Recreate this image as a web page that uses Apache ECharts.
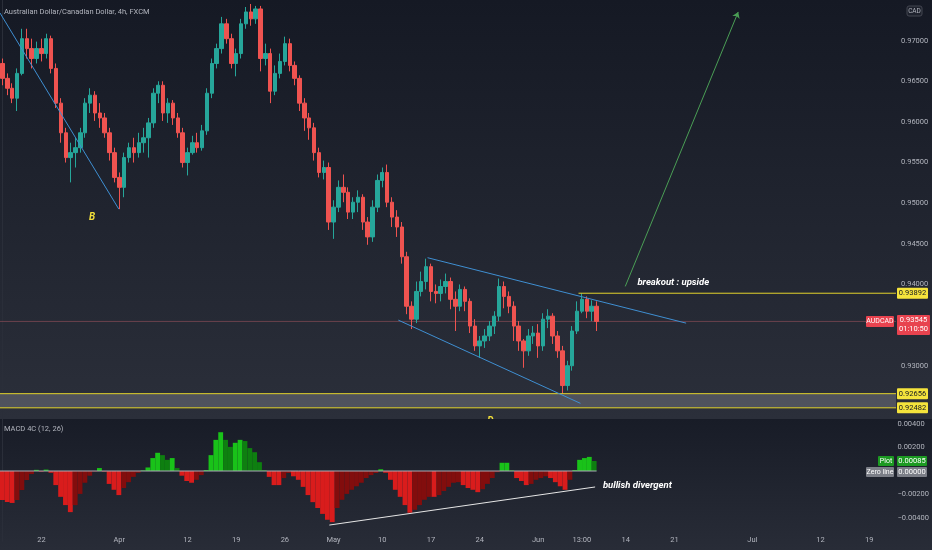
<!DOCTYPE html>
<html><head><meta charset="utf-8">
<script src="https://cdn.jsdelivr.net/npm/echarts@6/dist/echarts.min.js"></script>
<style>html,body{margin:0;padding:0;background:#1e222d}#c{width:932px;height:550px}</style>
</head><body><div id="c"></div>
<script>
// ---------- DATA ----------
// 12h candles, [open, close, low, high], from Mar 16 2021 (weekdays only)
const ohlc = [
[0.96719,0.96536,0.96451,0.96780],[0.96536,0.96414,0.96329,0.96597],[0.96414,0.96292,0.96231,0.96475],[0.96292,0.96597,0.96134,0.96658],
[0.96597,0.97024,0.96573,0.97146],[0.97024,0.96902,0.96780,0.97146],[0.96902,0.96780,0.96658,0.97024],[0.96780,0.96902,0.96719,0.96988],
[0.96902,0.96841,0.96744,0.97024],[0.96841,0.97024,0.96780,0.97085],[0.97024,0.96658,0.96597,0.97061],[0.96658,0.96231,0.96171,0.96719],
[0.96231,0.95866,0.95744,0.96292],[0.95866,0.95561,0.95500,0.95927],[0.95561,0.95622,0.95256,0.95744],[0.95622,0.95683,0.95439,0.95805],
[0.95683,0.95866,0.95622,0.95927],[0.95866,0.96231,0.95805,0.96292],[0.96231,0.96329,0.96110,0.96414],[0.96329,0.96110,0.96012,0.96378],
[0.96110,0.96049,0.95927,0.96231],[0.96049,0.95866,0.95805,0.96110],[0.95866,0.95622,0.95524,0.95927],[0.95622,0.95317,0.95256,0.95683],
[0.95317,0.95195,0.94927,0.95378],[0.95195,0.95561,0.95073,0.95622],[0.95561,0.95683,0.95500,0.95744],[0.95683,0.95622,0.95500,0.95805],
[0.95622,0.95744,0.95561,0.95866],[0.95744,0.95805,0.95622,0.95927],[0.95805,0.95988,0.95561,0.96049],[0.95988,0.96353,0.95927,0.96414],
[0.96353,0.96451,0.96231,0.96500],[0.96451,0.96110,0.96012,0.96500],[0.96110,0.96231,0.95988,0.96292],[0.96231,0.96049,0.95963,0.96268],
[0.96049,0.95866,0.95805,0.96110],[0.95866,0.95500,0.95439,0.95927],[0.95500,0.95622,0.95341,0.95683],[0.95622,0.95744,0.95597,0.95829],
[0.95744,0.95683,0.95622,0.95866],[0.95683,0.95890,0.95646,0.95963],[0.95890,0.96353,0.95841,0.96414],[0.96353,0.96719,0.96292,0.96780],
[0.96719,0.96902,0.96658,0.96963],[0.96902,0.97207,0.96841,0.97292],[0.97207,0.97024,0.96963,0.97268],[0.97024,0.96719,0.96658,0.97085],
[0.96719,0.96841,0.96561,0.96902],[0.96841,0.97207,0.96780,0.97268],[0.97207,0.97353,0.97146,0.97414],[0.97353,0.97268,0.97183,0.97451],
[0.97268,0.97390,0.97207,0.97427],[0.97390,0.96780,0.96622,0.97427],[0.96780,0.96841,0.96695,0.96963],[0.96841,0.96378,0.96231,0.96902],
[0.96378,0.96597,0.96329,0.96695],[0.96597,0.96744,0.96536,0.96841],[0.96744,0.96963,0.96695,0.97049],[0.96963,0.96695,0.96622,0.97024],
[0.96695,0.96536,0.96451,0.96744],[0.96536,0.96231,0.96134,0.96573],[0.96231,0.96049,0.95890,0.96292],[0.96049,0.95927,0.95780,0.96110],
[0.95927,0.95622,0.95524,0.95988],[0.95622,0.95378,0.95317,0.95683],[0.95378,0.95439,0.95292,0.95524],[0.95439,0.94768,0.94671,0.95500],
[0.94768,0.94951,0.94561,0.95036],[0.94951,0.95195,0.94890,0.95280],[0.95195,0.95134,0.95012,0.95353],[0.95134,0.94890,0.94805,0.95195],
[0.94890,0.95012,0.94805,0.95073],[0.95012,0.95073,0.94890,0.95158],[0.95073,0.94768,0.94671,0.95110],[0.94768,0.94585,0.94488,0.94829],
[0.94585,0.94951,0.94524,0.95036],[0.94951,0.95280,0.94890,0.95353],[0.95280,0.95378,0.95195,0.95439],[0.95378,0.95012,0.94951,0.95475],
[0.95012,0.94829,0.94707,0.95073],[0.94829,0.94707,0.94585,0.94914],[0.94707,0.94341,0.94256,0.94768],[0.94341,0.93732,0.93634,0.94402],
[0.93732,0.93573,0.93451,0.93792],[0.93573,0.93914,0.93524,0.94036],[0.93914,0.94036,0.93853,0.94158],[0.94036,0.94219,0.93939,0.94317],
[0.94219,0.93914,0.93792,0.94256],[0.93914,0.93890,0.93768,0.94000],[0.93890,0.93975,0.93792,0.94061],[0.93975,0.94036,0.93890,0.94134],
[0.94036,0.93817,0.93695,0.94085],[0.93817,0.93732,0.93427,0.93914],[0.93732,0.93939,0.93671,0.94000],[0.93939,0.93792,0.93671,0.93975],
[0.93792,0.93488,0.93402,0.93829],[0.93488,0.93244,0.93183,0.93573],[0.93244,0.93305,0.93097,0.93366],[0.93305,0.93366,0.93219,0.93451],
[0.93366,0.93488,0.93305,0.93549],[0.93488,0.93610,0.93390,0.93671],[0.93610,0.93975,0.93549,0.94073],[0.93975,0.93853,0.93707,0.94036],
[0.93853,0.93732,0.93646,0.93914],[0.93732,0.93488,0.93305,0.93792],[0.93488,0.93305,0.93183,0.93549],[0.93305,0.93183,0.92975,0.93329],
[0.93183,0.93366,0.93122,0.93451],[0.93366,0.93402,0.93268,0.93488],[0.93402,0.93244,0.93097,0.93512],[0.93244,0.93573,0.93183,0.93646],
[0.93573,0.93610,0.93463,0.93695],[0.93610,0.93366,0.93268,0.93646],[0.93366,0.93183,0.93097,0.93427],[0.93183,0.92756,0.92658,0.93244],
[0.92756,0.93000,0.92695,0.93061],[0.93000,0.93427,0.92939,0.93488],[0.93427,0.93671,0.93390,0.93792],[0.93671,0.93817,0.93646,0.93890],
[0.93817,0.93671,0.93585,0.93853],[0.93671,0.93732,0.93549,0.93805],[0.93732,0.93545,0.93427,0.93792]
];
// MACD 4C histogram (one value per candle)
const macd = [
-0.00247,-0.00264,-0.00272,-0.00247,-0.00162,-0.00077,-0.00026,0.00010,-0.00005,0.00012,
-0.00015,-0.00120,-0.00220,-0.00290,-0.00350,-0.00290,-0.00195,-0.00100,-0.00040,-0.00005,
0.00025,-0.00005,-0.00110,-0.00160,-0.00205,-0.00145,-0.00095,-0.00050,-0.00015,0.00005,
0.00030,0.00110,0.00155,0.00135,0.00095,0.00110,0.00025,-0.00040,-0.00085,-0.00100,
-0.00075,-0.00035,0.00008,0.00135,0.00265,0.00330,0.00265,0.00205,0.00240,0.00265,
0.00255,0.00195,0.00160,0.00075,0.00008,-0.00050,-0.00120,-0.00120,-0.00060,-0.00017,
-0.00045,-0.00075,-0.00135,-0.00205,-0.00265,-0.00315,-0.00365,-0.00415,-0.00435,-0.00315,
-0.00245,-0.00195,-0.00160,-0.00130,-0.00100,-0.00060,-0.00035,-0.00017,0.00015,-0.00015,
-0.00075,-0.00160,-0.00220,-0.00290,-0.00355,-0.00330,-0.00290,-0.00245,-0.00220,-0.00220,
-0.00205,-0.00170,-0.00135,-0.00100,-0.00095,-0.00120,-0.00145,-0.00160,-0.00180,-0.00155,
-0.00110,-0.00060,-0.00010,0.00070,0.00070,0.00008,-0.00060,-0.00085,-0.00120,-0.00110,
-0.00075,-0.00060,-0.00045,-0.00060,-0.00095,-0.00130,-0.00160,-0.00075,0.00008,0.00095,
0.00110,0.00120,0.00085
];
const tickIdx  = [8,24,38,48,58,68,78,88,98,110,119,128,138,154,168,178];
const tickText = ['22','Apr','12','19','26','May','10','17','24','Jun','13:00','14','21','Jul','12','19'];
const resistance = 0.93892, supportTop = 0.92656, supportBottom = 0.92482, lastPrice = 0.93545;
const plotValue = 0.00085, zeroValue = 0.0;
// drawn lines, [slot index, value]
const trendA = [[-0.5,0.97340],[23.9,0.94927]];
const channelTop = [[87.3,0.94329],[140.4,0.93524]];
const channelBottom = [[81.3,0.93561],[118.7,0.92537]];
const arrowLine = [[127.9,0.93976],[151.1,0.97353]];
const divergence = [[67.4,-0.00460],[122.2,-0.00136]];
const resistanceFrom = 118.3;
const noteB = [18.4,0.94829], noteBreak = [130.4,0.94024], noteDiv = [123.8,-0.00128], noteD = [100.2,0.92317];

// ---------- CATEGORIES (12h slots, weekdays) ----------
const N = 184;
const categories = [];
(function(){ const d = new Date(Date.UTC(2021,2,16));
  while (categories.length < N) { const wd = d.getUTCDay();
    if (wd !== 0 && wd !== 6) { const s = (d.getUTCMonth()+1)+'/'+d.getUTCDate(); categories.push(s+' a'); categories.push(s+' b'); }
    d.setUTCDate(d.getUTCDate()+1); } })();

const F = 'Roboto, "Noto Sans", sans-serif';
const AX = '#b2b5be';
const UP = '#26a69a', DN = '#ef5350';
const YEL = '#e3d32b';
const chart = echarts.init(document.getElementById('c'), null, {width:932, height:550});
const gl = -1, gw = 897;
const lineS = (xi, yi, data, color, w, z) => ({type:'line', xAxisIndex:xi, yAxisIndex:yi, data:data, symbol:'none', showSymbol:false, lineStyle:{color:color, width:w||1}, silent:true, z:z||5});
const X0 = -0.5, X1 = N - 0.5;

chart.setOption({
  animation:false,
  backgroundColor:'#1e222d',
  grid:[{left:gl,width:gw,top:-4,height:451},{left:gl,width:gw,top:424,height:117.5},{left:gl,width:gw,top:526,height:4}],
  xAxis:[
    {type:'category',gridIndex:0,data:categories,show:false},
    {type:'value',gridIndex:0,min:X0,max:X1,show:false},
    {type:'category',gridIndex:1,data:categories,show:false},
    {type:'value',gridIndex:1,min:X0,max:X1,show:false},
    {type:'category',gridIndex:2,data:categories,axisLine:{show:false},axisTick:{show:false},splitLine:{show:false},
      axisLabel:{interval:(i)=>tickIdx.indexOf(i)>=0, formatter:(v,i)=>{const k=tickIdx.indexOf(i);return k>=0?tickText[k]:'';},
        color:AX,fontSize:7.5,fontFamily:F,margin:6,hideOverlap:false}}
  ],
  yAxis:[
    {type:'value',gridIndex:0,position:'right',min:0.92,max:0.975,interval:0.005,splitLine:{show:false},
      axisLine:{show:true,lineStyle:{color:'#2a2e39'}},axisTick:{show:false},
      axisLabel:{color:AX,fontSize:7.5,fontFamily:F,margin:5,
        formatter:(v)=>{ if (v<0.929||v>0.971||Math.abs(v-0.935)<1e-6||Math.abs(v-0.925)<1e-6) return ''; return v.toFixed(5);} }},
    {type:'value',gridIndex:1,position:'right',min:-0.006,max:0.004,interval:0.002,splitLine:{show:false},
      axisLine:{show:true,lineStyle:{color:'#2a2e39'}},axisTick:{show:false},
      axisLabel:{color:AX,fontSize:7.5,fontFamily:F,margin:5,
        formatter:(v)=>{ if (Math.abs(v)<1e-9||v<-0.005) return ''; return v<0?'\u2212'+Math.abs(v).toFixed(5):v.toFixed(5);} }},
    {type:'value',gridIndex:2,show:false}
  ],
  series:[
    {type:'candlestick',xAxisIndex:0,yAxisIndex:0,data:ohlc,barWidth:'80%',z:3,
      itemStyle:{color:UP,color0:DN,borderColor:UP,borderColor0:DN,borderWidth:1}},
    Object.assign(lineS(1,0,trendA,'#3f8fd2',1),{
      markArea:{silent:true,itemStyle:{color:'rgba(140,143,153,0.38)'},data:[[{yAxis:supportTop},{yAxis:supportBottom}]]},
      markLine:{silent:true,symbol:'none',precision:6,label:{show:false},animation:false,
        lineStyle:{color:'#4a9e55',width:1,type:'solid'},
        data:[[{coord:arrowLine[0],symbol:'none'},{coord:arrowLine[1],symbol:'arrow',symbolSize:6}]]}}),
    lineS(1,0,channelTop,'#3f8fd2',1),
    lineS(1,0,channelBottom,'#3f8fd2',1),
    {type:'bar',xAxisIndex:2,yAxisIndex:1,data:macd,barCategoryGap:'0%',z:3,silent:true,
      itemStyle:{color:(p)=>{const i=p.dataIndex,v=macd[i],pv=i>0?macd[i-1]:v;
        if (v>=0) return v>=pv?'#19c219':'#0e7f10'; return v<=pv?'#d91c1c':'#820d0d';}}},
    lineS(3,1,[[X0,zeroValue],[macd.length-0.5,zeroValue]],'#a9acb5',1),
    lineS(3,1,divergence,'#e6e6e6',1),
    lineS(1,0,[[X0,lastPrice],[X1,lastPrice]],'rgba(190,95,105,0.45)',1,1),
    lineS(1,0,[[X0,supportTop],[X1,supportTop]],YEL,1,4),
    lineS(1,0,[[X0,supportBottom],[X1,supportBottom]],YEL,1,4),
    lineS(1,0,[[resistanceFrom,resistance],[X1,resistance]],YEL,1,4)
  ]
});

// ---------- overlay: backgrounds, labels, tags ----------
const P = (si, pt) => chart.convertToPixel({seriesIndex:si}, pt);
const yP = (v) => chart.convertToPixel({yAxisIndex:0}, v);
const yM = (v) => chart.convertToPixel({yAxisIndex:1}, v);
const grad = (a,b) => new echarts.graphic.LinearGradient(0,0,0,1,[{offset:0,color:a},{offset:1,color:b}]);
const txt = (x,y,s,fill,size,extra,z) => ({type:'text',silent:true,z:(z==null?100:z),style:Object.assign({text:s,x:x,y:y,fill:fill,fontSize:size,fontFamily:F,align:'left',verticalAlign:'middle'},extra||{})});
const tag = (x,yc,w,h,fill,s,tc,size) => [
  {type:'rect',silent:true,z:90,shape:{x:x,y:yc-h/2,width:w,height:h,r:1},style:{fill:fill}},
  {type:'text',silent:true,z:91,style:{text:s,x:x+w/2,y:yc,fill:tc,fontSize:size||7.5,fontFamily:F,align:'center',verticalAlign:'middle',lineHeight:9}}
];
const b = P(1,noteB), br = P(1,noteBreak), dv = P(6,noteDiv), dd = P(1,noteD);
const g = [
  {type:'rect',silent:true,z:-20,shape:{x:0,y:0,width:932,height:419},style:{fill:grad('#151924','#2b2f3a')}},
  txt(dd[0],dd[1],'D','#f2df3a',10,{fontWeight:'bold',fontStyle:'italic',align:'center'},-19.5),
  {type:'rect',silent:true,z:-19,shape:{x:0,y:419,width:932,height:131},style:{fill:grad('#181c27','#282c37')}},
  txt(4,12,'Australian Dollar/Canadian Dollar, 4h, FXCM',AX,7.5),
  txt(4,429,'MACD 4C (12, 26)',AX,7.5),
  txt(b[0],b[1],'B','#f2df3a',10,{fontWeight:'bold',fontStyle:'italic',align:'center'}),
  txt(br[0],br[1],'breakout : upside','#ffffff',9.5,{fontWeight:'bold',fontStyle:'italic'}),
  txt(dv[0],dv[1],'bullish divergent','#ffffff',9.5,{fontWeight:'bold',fontStyle:'italic'}),
  {type:'rect',silent:true,z:90,shape:{x:907,y:6,width:15,height:10,r:2},style:{fill:'#1e222d',stroke:'#434651',lineWidth:1}},
  {type:'text',silent:true,z:91,style:{text:'CAD',x:914.5,y:11,fill:AX,fontSize:6.5,fontFamily:F,align:'center',verticalAlign:'middle'}}
];
g.push(...tag(897,yP(resistance),31,11,'#f5e43c','0.93892','#131722'));
g.push(...tag(897,yP(supportTop),31,11,'#f5e43c','0.92656','#131722'));
g.push(...tag(897,yP(supportBottom),31,11,'#f5e43c','0.92482','#131722'));
const yl = yP(lastPrice);
g.push(...tag(866,yl,28,11,'#e8434f','AUDCAD','#ffffff',7));
g.push(...tag(897,yl+3.5,33,20,'#e8434f','0.93545\n01:10:50','#ffffff',7.5));
const yp = yM(plotValue), yz = yM(zeroValue);
g.push(...tag(878,yp,16,10,'#1c9a22','Plot','#ffffff',7));
g.push(...tag(897,yp,30,10,'#1c9a22','0.00085','#ffffff',7.5));
g.push(...tag(866,yz+1,28,10,'#7b7e87','Zero line','#ffffff',7));
g.push(...tag(897,yz+1,30,10,'#7b7e87','0.00000','#ffffff',7.5));
chart.setOption({graphic:g});
</script>
</body></html>
